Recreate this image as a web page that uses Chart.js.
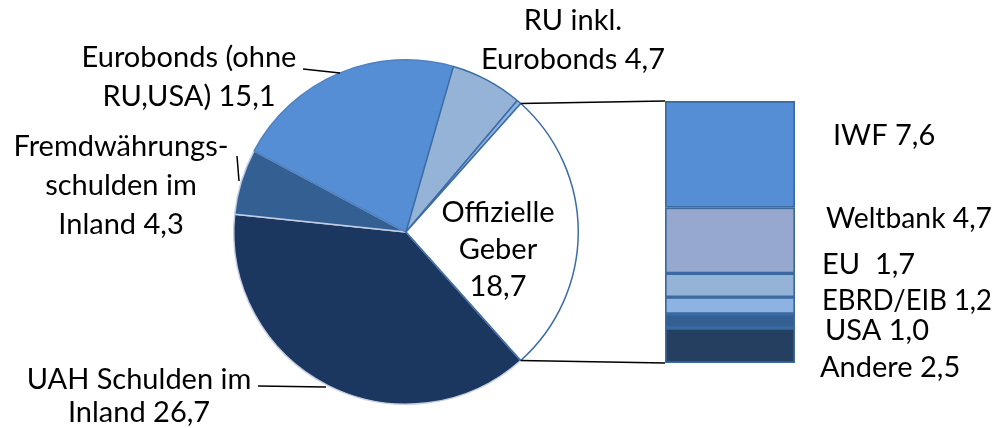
<!DOCTYPE html>
<html>
<head>
<meta charset="utf-8">
<script src="https://cdn.jsdelivr.net/npm/chart.js@4.4.1/dist/chart.umd.min.js"></script>
<style>
  html, body { margin: 0; padding: 0; background: #fff; }
  #wrap { position: relative; width: 999px; height: 428px; }
  #wrap canvas { position: absolute; left: 0; top: 0; }
</style>
</head>
<body>
<div id="wrap">
  <canvas id="pieChart" width="999" height="428"></canvas>
  <canvas id="barChart" width="999" height="428"></canvas>
</div>
<script>
// Pie: clockwise from the bottom of "Offizielle Geber"
const pieLabels = ['UAH Schulden im Inland', 'Fremdwährungsschulden im Inland', 'Eurobonds (ohne RU,USA)', 'RU inkl. Eurobonds', '', 'Offizielle Geber'];
const pieValues = [26.7, 4.3, 15.1, 4.7, 0.3, 18.7];
const pieColors = ['#1b375f', '#335f93', '#558ed5', '#95b3d7', '#8eb4e3', '#ffffff'];
const pieBorders = ['#c3cde4', '#c3cde4', '#4f82c0', '#3d6ca5', '#3d6ca5', '#3d6ca5'];

// Bar of "Offizielle Geber", bottom to top
const barLabels = ['Andere', 'USA', 'EBRD/EIB', 'EU', 'Weltbank', 'IWF'];
const barValues = [2.5, 1.0, 1.2, 1.7, 4.7, 7.6];
const barColors = ['#243f60', '#335f93', '#8db3e2', '#95b3d7', '#96a8ce', '#558ed5'];

const FONT = '29px Lato';

// text blocks: lines, anchor x, first line y, alignment
const textBlocks = [
  { lines: ['RU inkl.', 'Eurobonds 4,7'], x: 573, y: 21, align: 'center' },
  { lines: ['Eurobonds (ohne', 'RU,USA) 15,1'], x: 189, y: 58, align: 'center' },
  { lines: ['Fremdwährungs-', 'schulden im', 'Inland 4,3'], x: 121, y: 147, align: 'center' },
  { lines: ['UAH Schulden im', 'Inland 26,7'], x: 139, y: 380, align: 'center', gap: 33 },
  { lines: ['Offizielle', 'Geber', '18,7'], x: 498, y: 213, align: 'center', gap: 37 },
  { lines: ['IWF 7,6'], x: 833, y: 136, align: 'left' },
  { lines: ['Weltbank 4,7'], x: 826, y: 219, align: 'left', maxWidth: 166 },
  { lines: ['EU  1,7'], x: 822, y: 265, align: 'left' },
  { lines: ['EBRD/EIB 1,2'], x: 822, y: 301, align: 'left', maxWidth: 170 },
  { lines: ['USA 1,0'], x: 825, y: 331, align: 'left' },
  { lines: ['Andere 2,5'], x: 820, y: 368, align: 'left' }
];

const leaders = [
  [303, 69, 340, 73],
  [237, 156, 239, 181],
  [258, 386, 326, 387]
];

const pieTotal = pieValues.reduce((a, b) => a + b, 0);
const offAngle = pieValues[5] / pieTotal * 360;

const pieChart = new Chart(document.getElementById('pieChart'), {
  type: 'pie',
  data: {
    labels: pieLabels,
    datasets: [{
      data: pieValues,
      backgroundColor: pieColors,
      borderColor: pieBorders,
      borderWidth: 1.5
    }]
  },
  options: {
    responsive: false,
    animation: false,
    events: [],
    rotation: 90 + offAngle / 2,
    layout: { padding: { left: 233, right: 420, top: 58, bottom: 22 } },
    plugins: { legend: { display: false }, tooltip: { enabled: false } }
  }
});

const overlay = {
  id: 'overlay',
  afterDraw(chart) {
    const ctx = chart.ctx;
    const arc = pieChart.getDatasetMeta(0).data[5];
    const top = chart.getDatasetMeta(barValues.length - 1).data[0];
    const bottom = chart.getDatasetMeta(0).data[0];
    const barLeft = top.x - top.width / 2;

    ctx.save();
    ctx.strokeStyle = '#000';
    ctx.lineWidth = 1.5;
    ctx.beginPath();
    ctx.moveTo(arc.x + arc.outerRadius * Math.cos(arc.startAngle), arc.y + arc.outerRadius * Math.sin(arc.startAngle));
    ctx.lineTo(barLeft, top.y);
    ctx.moveTo(arc.x + arc.outerRadius * Math.cos(arc.endAngle), arc.y + arc.outerRadius * Math.sin(arc.endAngle));
    ctx.lineTo(barLeft, bottom.base);
    leaders.forEach(l => { ctx.moveTo(l[0], l[1]); ctx.lineTo(l[2], l[3]); });
    ctx.stroke();

    ctx.fillStyle = '#000';
    ctx.font = FONT;
    ctx.textBaseline = 'middle';
    textBlocks.forEach(b => {
      ctx.textAlign = b.align;
      b.lines.forEach((t, i) => {
        const y = b.y + i * (b.gap || 39);
        if (b.maxWidth) ctx.fillText(t, b.x, y, b.maxWidth);
        else ctx.fillText(t, b.x, y);
      });
    });
    ctx.restore();
  }
};

new Chart(document.getElementById('barChart'), {
  type: 'bar',
  data: {
    labels: [''],
    datasets: barLabels.map((label, i) => ({
      label: label,
      data: [barValues[i]],
      backgroundColor: barColors[i],
      borderColor: '#3a6aa0',
      borderWidth: 2,
      borderSkipped: false,
      barPercentage: 1,
      categoryPercentage: 1
    }))
  },
  options: {
    responsive: false,
    animation: false,
    events: [],
    layout: { padding: { left: 665, right: 204, top: 101, bottom: 65 } },
    scales: {
      x: { display: false, stacked: true },
      y: { display: false, stacked: true, min: 0, max: barValues.reduce((a, b) => a + b, 0) }
    },
    plugins: { legend: { display: false }, tooltip: { enabled: false } }
  },
  plugins: [overlay]
});
</script>
</body>
</html>
